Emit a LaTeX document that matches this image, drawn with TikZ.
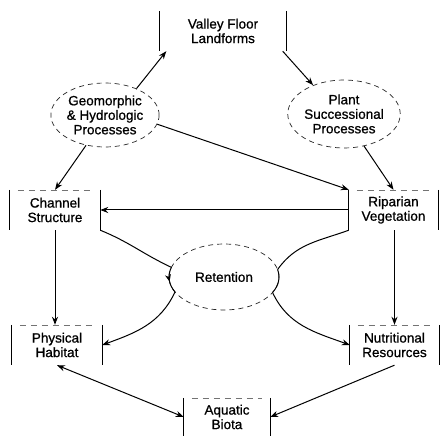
\documentclass[tikz,border=0pt]{standalone}
\usepackage{fontspec}
\setmainfont{Liberation Sans}
\newfontfamily\diagfont{Liberation Sans}[FakeBold=0.8]
\usetikzlibrary{arrows.meta,shapes.geometric,decorations.markings}
\begin{document}
\begin{tikzpicture}[x=1pt,y=1pt,
  txt/.style={font=\diagfont\fontsize{13.5}{14.5}\selectfont, align=center, inner sep=0pt},
  sidebox/.style={txt, rectangle, minimum height=40pt},
  proc/.style={txt, ellipse, draw=black!85, line width=0.7pt, dash pattern=on 5pt off 4pt},
  conn/.style={line width=1pt, -{Stealth[length=8pt,width=6pt]}},
  bar/.style={line width=1pt},
  faint/.style={line width=0.5pt, black!55, dash pattern=on 6pt off 5pt}
]
\useasboundingbox (0,0) rectangle (440,437);
\fill[white] (0,0) rectangle (440,437);

% boxes
\node[sidebox, minimum width=127pt] (vf) at (223,406) {Valley Floor\\Landforms};
\node[sidebox, minimum width=90pt] (ch) at (55,227) {Channel\\Structure};
\node[sidebox, minimum width=89pt] (rip) at (393.5,227) {Riparian\\Vegetation};
\node[sidebox, minimum width=90pt] (phys) at (57,92) {Physical\\Habitat};
\node[sidebox, minimum width=89pt] (nut) at (394.5,92) {Nutritional\\Resources};
\node[sidebox, minimum width=86pt, minimum height=38pt] (aq) at (227,20) {Aquatic\\Biota};

\foreach \b in {vf,ch,rip,phys,nut,aq}{
  \draw[bar] (\b.north west) -- (\b.south west);
  \draw[bar] (\b.north east) -- (\b.south east);
}
\foreach \b in {ch,rip,phys,nut,aq}{
  \draw[faint] ([xshift=8pt]\b.north west) -- ([xshift=-8pt]\b.north east);
}

% processes
\node[proc, minimum width=106pt, minimum height=64pt] (geo) at (105,322) {Geomorphic\\\& Hydrologic\\Processes};
\node[proc, minimum width=106pt, minimum height=68pt] (plant) at (344,323) {Plant\\Successional\\Processes};
\node[proc, minimum width=110pt, minimum height=66pt] (ret) at (224,160) {Retention};

% connectors
\draw[conn] (geo.40) -- ([xshift=7pt]vf.south west);
\draw[conn] ([xshift=-4pt]vf.south east) -- (plant.137);
\draw[conn] (geo.-122) -- (ch.north);
\draw[conn] (plant.-58) -- (rip.north);
\draw[conn] (geo.-10) -- (rip.north west);
\draw[conn] (rip.west) -- (ch.east);

% into and out of retention
\path (ret.center) ++(163:55 and 33) coordinate (rA);
\path (ret.center) ++(207:55 and 33) coordinate (rB);
\path (ret.center) ++(13:55 and 33) coordinate (rC);
\path (ret.center) ++(-28:55 and 33) coordinate (rD);

\draw[bar] (ch.south east) to[out=-22,in=155] (rA);
\draw[bar, postaction={decorate},
  decoration={markings, mark=at position 0.55 with {\arrow{Stealth[length=7pt,width=6pt]}}}]
  (rA) arc[start angle=163, end angle=207, x radius=55, y radius=33];
\draw[conn] (rB) to[out=-115,in=20] (phys.east);

\draw[bar] (rip.south west) to[out=200,in=55] (rC);
\draw[bar] (rC) arc[start angle=13, end angle=-28, x radius=55, y radius=33];
\draw[conn] (rD) to[out=-65,in=160] (nut.west);

\draw[conn] (ch.south) -- (ch.south |- phys.north);
\draw[conn] ([xshift=1pt]rip.south) -- ([xshift=1pt]rip.south |- nut.north);

\draw[line width=1pt, {Stealth[length=8pt,width=6pt]}-{Stealth[length=8pt,width=6pt]}] (phys.south) -- (aq.west);
\draw[conn] (nut.south) -- (aq.east);
\end{tikzpicture}
\end{document}
